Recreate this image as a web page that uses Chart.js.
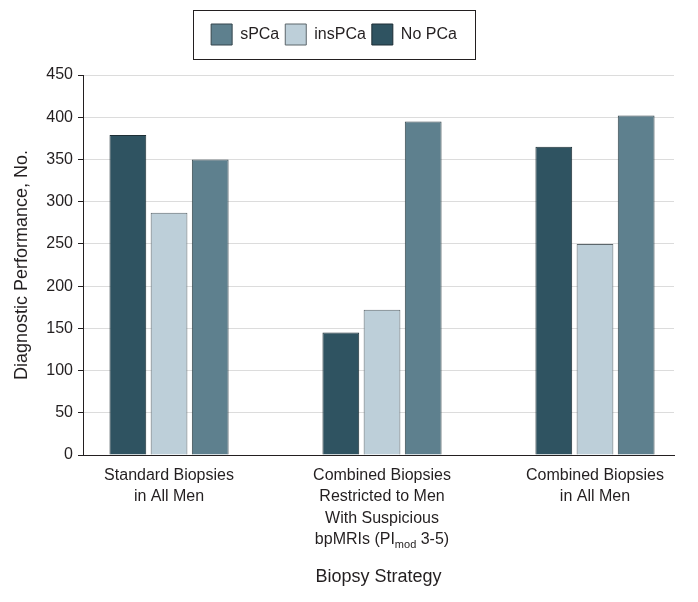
<!DOCTYPE html>
<html>
<head>
<meta charset="utf-8">
<script src="https://cdn.jsdelivr.net/npm/chart.js@4"></script>
<style>
  html, body { margin: 0; padding: 0; background: #fff; }
  #wrap { width: 698px; height: 602px; position: relative; }
</style>
</head>
<body>
<div id="wrap"><canvas id="c"></canvas></div>
<script>
// ---- data ----
const categories = [
  ["Standard Biopsies", "in All Men"],
  ["Combined Biopsies", "Restricted to Men", "With Suspicious", ""],
  ["Combined Biopsies", "in All Men"]
];
// last line of the second category, drawn with a subscript: bpMRIs (PI_mod 3-5)
const subscriptLine = ["bpMRIs (PI", "mod", " 3-5)"];
const seriesNames = ["No PCa", "insPCa", "sPCa"];
const noPCa = [379, 145, 365];
const insPCa = [287, 172, 250];
const sPCa = [350, 395, 402];
const yTickValues = [0, 50, 100, 150, 200, 250, 300, 350, 400, 450];
const yTitle = "Diagnostic Performance, No.";
const xTitle = "Biopsy Strategy";

// ---- styles ----
const TEXT = '#231f20';
const FONT = "'Liberation Sans', Arial, sans-serif";
Chart.defaults.font.family = FONT;
Chart.defaults.color = TEXT;
const LINE_H = 1.33;
const TICK_PAD = 10;

const toPoints = arr => arr.map((v, i) => ({ x: i, y: v }));

const legendFrame = {
  id: 'legendFrame',
  beforeLayout(chart) {
    const lg = chart.legend;
    if (lg && !lg.__wrapped) {
      const fit = lg.fit.bind(lg);
      lg.fit = function () { fit(); this.height += 20; };
      lg.__wrapped = true;
    }
  },
  afterLayout(chart) {
    const lg = chart.legend;
    if (lg) { lg.left -= 3; lg.right -= 3; }
  },
  afterDraw(chart) {
    const lg = chart.legend;
    const hb = lg && lg.legendHitBoxes;
    const ctx = chart.ctx;
    if (hb && hb.length) {
      const first = hb[0], last = hb[hb.length - 1];
      const x0 = Math.round(first.left - 18) + 0.5;
      const x1 = Math.round(last.left + last.width + 18) + 0.5;
      const y0 = Math.round(first.top - 14) + 0.5;
      const y1 = Math.round(first.top + first.height + 14) + 0.5;
      ctx.save();
      ctx.strokeStyle = TEXT;
      ctx.lineWidth = 1;
      ctx.strokeRect(x0, y0, x1 - x0, y1 - y0);
      ctx.restore();
    }
    // subscript line under second category
    const xs = chart.scales.x;
    const cx = xs.getPixelForValue(1);
    const lh = 16 * LINE_H;
    const y = xs.top + TICK_PAD + lh * 3.5;
    ctx.save();
    ctx.fillStyle = TEXT;
    ctx.textBaseline = 'middle';
    ctx.textAlign = 'left';
    const big = "16px " + FONT, small = "11px " + FONT;
    ctx.font = big; const w0 = ctx.measureText(subscriptLine[0]).width;
    const w2 = ctx.measureText(subscriptLine[2]).width;
    ctx.font = small; const w1 = ctx.measureText(subscriptLine[1]).width;
    let x = cx - (w0 + w1 + w2) / 2;
    ctx.font = big; ctx.fillText(subscriptLine[0], x, y); x += w0;
    ctx.font = small; ctx.fillText(subscriptLine[1], x, y + 5); x += w1;
    ctx.font = big; ctx.fillText(subscriptLine[2], x, y);
    ctx.restore();
  }
};

new Chart(document.getElementById('c'), {
  type: 'bar',
  data: {
    datasets: [
      { label: seriesNames[0], data: toPoints(noPCa), backgroundColor: '#2f5361', borderColor: '#1e2f36', borderWidth: 1 },
      { label: seriesNames[1], data: toPoints(insPCa), backgroundColor: '#bdcfd9', borderColor: '#5c666b', borderWidth: 1 },
      { label: seriesNames[2], data: toPoints(sPCa), backgroundColor: '#5e808e', borderColor: '#34454c', borderWidth: 1 }
    ]
  },
  options: {
    responsive: true,
    maintainAspectRatio: false,
    animation: false,
    categoryPercentage: 0.58,
    barPercentage: 0.893,
    layout: { padding: { top: 18, left: 0, right: 24, bottom: 0 } },
    plugins: {
      tooltip: { enabled: false },
      legend: {
        position: 'top',
        reverse: true,
        labels: {
          boxWidth: 21,
          boxHeight: 21,
          padding: 6,
          font: { size: 16 },
          color: TEXT
        }
      }
    },
    scales: {
      x: {
        type: 'linear',
        offset: false,
        bounds: 'data',
        min: -0.404,
        max: 2.371,
        grid: { display: false, drawTicks: false, offset: false },
        border: { display: true, color: TEXT, width: 1 },
        afterBuildTicks: s => { s.ticks = categories.map((c, i) => ({ value: i })); },
        afterFit: s => { s.height = 147; },
        ticks: {
          autoSkip: false,
          maxRotation: 0,
          padding: TICK_PAD,
          font: { size: 16, lineHeight: LINE_H },
          color: TEXT,
          callback: v => categories[Math.round(v)]
        },
        title: {
          display: true,
          text: xTitle,
          font: { size: 18 },
          color: TEXT,
          padding: { top: 0, bottom: 14 }
        }
      },
      y: {
        min: 0,
        max: 450,
        afterBuildTicks: s => { s.ticks = yTickValues.map(v => ({ value: v })); },
        afterFit: s => { s.width = 83; },
        grid: { color: '#dcdcdc', lineWidth: 1, tickColor: TEXT, tickLength: 5 },
        border: { display: true, color: TEXT, width: 1 },
        ticks: { padding: 5, font: { size: 16 }, color: TEXT },
        title: {
          display: true,
          text: yTitle,
          font: { size: 18 },
          color: TEXT,
          padding: { top: 11, bottom: 0 }
        }
      }
    }
  },
  plugins: [legendFrame]
});
</script>
</body>
</html>
